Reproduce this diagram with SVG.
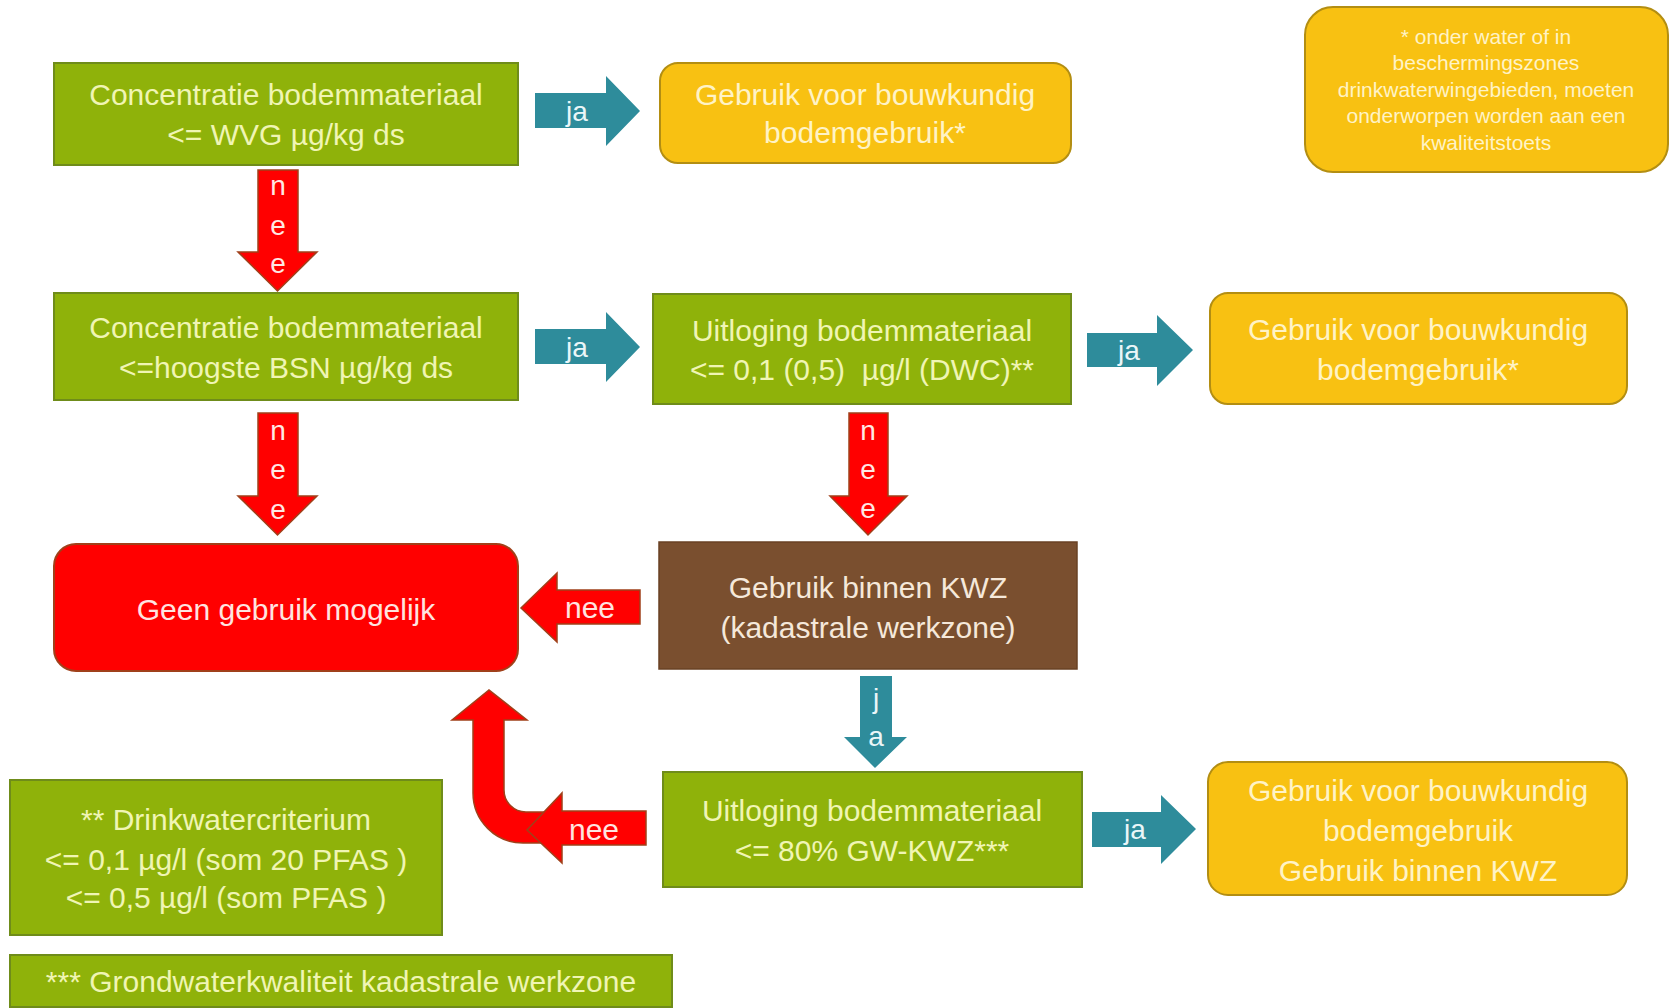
<svg xmlns="http://www.w3.org/2000/svg" width="1671" height="1008" viewBox="0 0 1671 1008">
<style>
  text { font-family: "Liberation Sans", Arial, sans-serif; text-anchor: middle; }
  .green { fill: #8FB20A; stroke: #6F8C1A; stroke-width: 2; }
  .yellow { fill: #F8C112; stroke: #B38E12; stroke-width: 2; }
  .redbox { fill: #FF0000; stroke: #A0401A; stroke-width: 2; }
  .brown { fill: #7A4F2F; stroke: #6A4225; stroke-width: 1.5; }
  .teal { fill: #2E8C9B; }
  .red { fill: #FF0000; stroke: #A0401A; stroke-width: 1.5; }
  .tg { fill: #F0F5B4; font-size: 30px; }
  .ty { fill: #FFF3C6; font-size: 30px; }
  .tr { fill: #FFE4E0; font-size: 30px; }
  .tb { fill: #F5E8DA; font-size: 30px; }
  .tn { fill: #FFF3C6; font-size: 21px; }
  .ta { fill: #EAF6F8; font-size: 28px; }
  .tx { fill: #FFE8E4; font-size: 28px; }
</style>

<g id="connectors">
  <g id="ja1"><polygon class="teal" points="535,93 606,93 606,76 640,111 606,146 606,128 535,128"/><text class="ta" x="577" y="121">ja</text></g>
  <g id="ja2"><polygon class="teal" points="535,329 606,329 606,312 640,347 606,382 606,364 535,364"/><text class="ta" x="577" y="357">ja</text></g>
  <g id="ja3"><polygon class="teal" points="1087,333 1157,333 1157,315 1193,350 1157,386 1157,367 1087,367"/><text class="ta" x="1129" y="360">ja</text></g>
  <g id="ja4"><polygon class="teal" points="1092,812 1161,812 1161,795 1196,829 1161,864 1161,847 1092,847"/><text class="ta" x="1135" y="839">ja</text></g>
  <g id="ja5"><polygon class="teal" points="860,676 892,676 892,737 907,737 875,768 844,737 860,737"/>
    <text class="ta" x="876" y="708">j</text><text class="ta" x="876" y="746">a</text></g>
  <g id="nee1"><polygon class="red" points="258,170 298,170 298,252 317,252 277.5,291 238,252 258,252"/>
    <text class="tx" x="278" y="195">n</text><text class="tx" x="278" y="235">e</text><text class="tx" x="278" y="273">e</text></g>
  <g id="nee2"><polygon class="red" points="258,413 298,413 298,496 317,496 277.5,535 238,496 258,496"/>
    <text class="tx" x="278" y="440">n</text><text class="tx" x="278" y="479">e</text><text class="tx" x="278" y="519">e</text></g>
  <g id="nee3"><polygon class="red" points="849,413 888,413 888,496 907,496 868,535 830,496 849,496"/>
    <text class="tx" x="868" y="440">n</text><text class="tx" x="868" y="479">e</text><text class="tx" x="868" y="518">e</text></g>
  <g id="nee4"><polygon class="red" points="640,590 557,590 557,573 521,608 557,642 557,624 640,624"/>
    <text class="tr" x="590" y="618">nee</text></g>
  <g id="nee5">
    <path class="red" d="M 560 812 L 526 812 A 22 22 0 0 1 504 790 L 504 720 L 527 720 L 489 690 L 452 720 L 473 720 L 473 793 A 50 50 0 0 0 523 843 L 560 843 Z"/>
    <polygon class="red" points="646,811 562,811 562,793 527,830 562,863 562,845 646,845"/>
    <text class="tr" x="594" y="840">nee</text>
  </g>
</g>

<g id="n1"><rect class="green" x="54" y="63" width="464" height="102"/>
  <text class="tg" x="286" y="105">Concentratie bodemmateriaal</text>
  <text class="tg" x="286" y="145">&lt;= WVG µg/kg ds</text></g>

<g id="n2"><rect class="yellow" x="660" y="63" width="411" height="100" rx="18"/>
  <text class="ty" x="865" y="105">Gebruik voor bouwkundig</text>
  <text class="ty" x="865" y="143">bodemgebruik*</text></g>

<g id="note"><rect class="yellow" x="1305" y="7" width="363" height="165" rx="28"/>
  <text class="tn" x="1486" y="44">* onder water of in</text>
  <text class="tn" x="1486" y="70">beschermingszones</text>
  <text class="tn" x="1486" y="97">drinkwaterwingebieden, moeten</text>
  <text class="tn" x="1486" y="123">onderworpen worden aan een</text>
  <text class="tn" x="1486" y="150">kwaliteitstoets</text></g>

<g id="n3"><rect class="green" x="54" y="293" width="464" height="107"/>
  <text class="tg" x="286" y="338">Concentratie bodemmateriaal</text>
  <text class="tg" x="286" y="378">&lt;=hoogste BSN µg/kg ds</text></g>

<g id="n4"><rect class="green" x="653" y="294" width="418" height="110"/>
  <text class="tg" x="862" y="341">Uitloging bodemmateriaal</text>
  <text class="tg" x="862" y="380" xml:space="preserve">&lt;= 0,1 (0,5)  µg/l (DWC)**</text></g>

<g id="n5"><rect class="yellow" x="1210" y="293" width="417" height="111" rx="18"/>
  <text class="ty" x="1418" y="340">Gebruik voor bouwkundig</text>
  <text class="ty" x="1418" y="380">bodemgebruik*</text></g>

<g id="n6"><rect class="redbox" x="54" y="544" width="464" height="127" rx="22"/>
  <text class="tr" x="286" y="620">Geen gebruik mogelijk</text></g>

<g id="n7"><rect class="brown" x="659" y="542" width="418" height="127"/>
  <text class="tb" x="868" y="598">Gebruik binnen KWZ</text>
  <text class="tb" x="868" y="638">(kadastrale werkzone)</text></g>

<g id="n8"><rect class="green" x="663" y="772" width="419" height="115"/>
  <text class="tg" x="872" y="821">Uitloging bodemmateriaal</text>
  <text class="tg" x="872" y="861">&lt;= 80% GW-KWZ***</text></g>

<g id="n9"><rect class="yellow" x="1208" y="762" width="419" height="133" rx="20"/>
  <text class="ty" x="1418" y="801">Gebruik voor bouwkundig</text>
  <text class="ty" x="1418" y="841">bodemgebruik</text>
  <text class="ty" x="1418" y="881">Gebruik binnen KWZ</text></g>

<g id="fn1"><rect class="green" x="10" y="780" width="432" height="155"/>
  <text class="tg" x="226" y="830">** Drinkwatercriterium</text>
  <text class="tg" x="226" y="870">&lt;= 0,1 µg/l (som 20 PFAS )</text>
  <text class="tg" x="226" y="908">&lt;= 0,5 µg/l (som PFAS )</text></g>

<g id="fn2"><rect class="green" x="10" y="955" width="662" height="52"/>
  <text class="tg" x="341" y="992">*** Grondwaterkwaliteit kadastrale werkzone</text></g>
</svg>
